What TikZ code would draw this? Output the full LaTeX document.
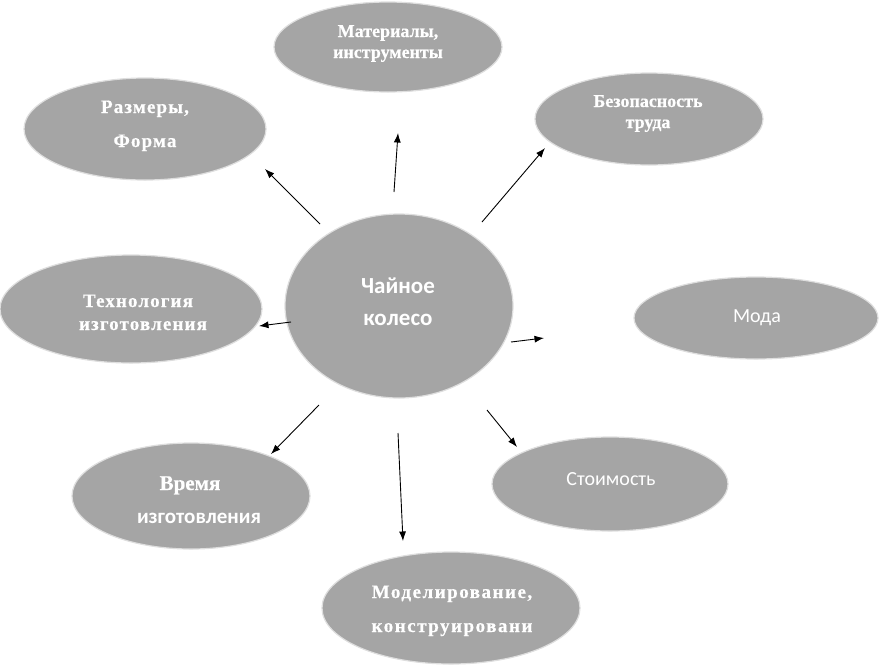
\documentclass[tikz,border=0pt]{standalone}
\usepackage{fontspec}
\setmainfont{Liberation Serif}
\newfontfamily\calfont{Carlito}
\newfontfamily\heavyserif[FakeBold=0.5]{Liberation Serif Bold}
\usetikzlibrary{shapes.geometric,arrows.meta}
\definecolor{bubble}{HTML}{A5A5A5}
\definecolor{rim}{HTML}{DEDEDE}
\setlength{\tabcolsep}{0pt}
\begin{document}
\begin{tikzpicture}[x=1pt,y=-1pt,
  bub/.style={ellipse, fill=bubble, draw=rim, line width=1.2pt, inner sep=0pt},
  lbl/.style={text=white, inner sep=0pt, anchor=base},
  arr/.style={-{Latex[length=9.5pt,width=7pt]}, line width=0.9pt, black}]
\useasboundingbox (0,0) rectangle (880,665);
% bubbles
\node[bub, minimum width=228pt, minimum height=90pt]  (mat)  at (388,47)  {};
\node[bub, minimum width=242pt, minimum height=102pt] (razm) at (145,129) {};
\node[bub, minimum width=228pt, minimum height=92pt]  (bez)  at (649,119) {};
\node[bub, minimum width=228pt, minimum height=184pt] (chai) at (399,306) {};
\node[bub, minimum width=262pt, minimum height=108pt] (tech) at (131,309) {};
\node[bub, minimum width=244pt, minimum height=82pt]  (moda) at (756,318) {};
\node[bub, minimum width=236pt, minimum height=94pt]  (stoi) at (610,484) {};
\node[bub, minimum width=238pt, minimum height=106pt] (vrem) at (191,496) {};
\node[bub, minimum width=258pt, minimum height=112pt] (model) at (451,608) {};
% labels
\node[lbl] (tmat) at (388,37) {\heavyserif\fontsize{18}{21}\selectfont
  \begin{tabular}[t]{c}Материалы,\\инструменты\end{tabular}};
\node[lbl] (trazm) at (145,113) {\heavyserif\fontsize{19}{34}\selectfont\addfontfeature{LetterSpace=6}%
  \begin{tabular}[t]{c}Размеры,\\Форма\end{tabular}};
\node[lbl] (tbez) at (648,107) {\heavyserif\fontsize{18}{21}\selectfont
  \begin{tabular}[t]{c}Безопасность\\труда\end{tabular}};
\node[lbl] (tchai) at (398,293) {\calfont\bfseries\fontsize{23}{32}\selectfont
  \begin{tabular}[t]{c}Чайное\\колесо\end{tabular}};
\node[lbl] (ttech) at (143,307) {\heavyserif\fontsize{19}{23}\selectfont\addfontfeature{LetterSpace=6}%
  \begin{tabular}[t]{c}Технология\hspace*{10pt}\\изготовления\end{tabular}};
\node[lbl] (tmoda) at (757,322) {\calfont\fontsize{20}{24}\selectfont Мода};
\node[lbl] (tstoi) at (611,485) {\calfont\fontsize{20}{24}\selectfont Стоимость};
\node[lbl] (tvrem) at (199,490) {\fontsize{21}{33}\selectfont
  \begin{tabular}[t]{c}\heavyserif Время\hspace*{18pt}\\{\calfont\bfseries изготовления}\end{tabular}};
\node[lbl] (tmodel) at (452,598) {\heavyserif\fontsize{19}{34}\selectfont\addfontfeature{LetterSpace=8}%
  \begin{tabular}[t]{c}Моделирование,\\конструировани\end{tabular}};
% arrow ends
\coordinate (s1) at (320,224); \coordinate (e1) at (265,169);
\coordinate (s2) at (394,192); \coordinate (e2) at (398,133);
\coordinate (s3) at (482,222); \coordinate (e3) at (545,148);
\coordinate (s4) at (291,322); \coordinate (e4) at (259,326);
\coordinate (s5) at (511,342); \coordinate (e5) at (544,338);
\coordinate (s6) at (487,410); \coordinate (e6) at (517,447);
\coordinate (s7) at (319,405); \coordinate (e7) at (271,454);
\coordinate (s8) at (398,433); \coordinate (e8) at (403,541);
\draw[arr] (s1) -- (e1);
\draw[arr] (s2) -- (e2);
\draw[arr] (s3) -- (e3);
\draw[arr] (s4) -- (e4);
\draw[arr] (s5) -- (e5);
\draw[arr] (s6) -- (e6);
\draw[arr] (s7) -- (e7);
\draw[arr] (s8) -- (e8);
\end{tikzpicture}
\end{document}
